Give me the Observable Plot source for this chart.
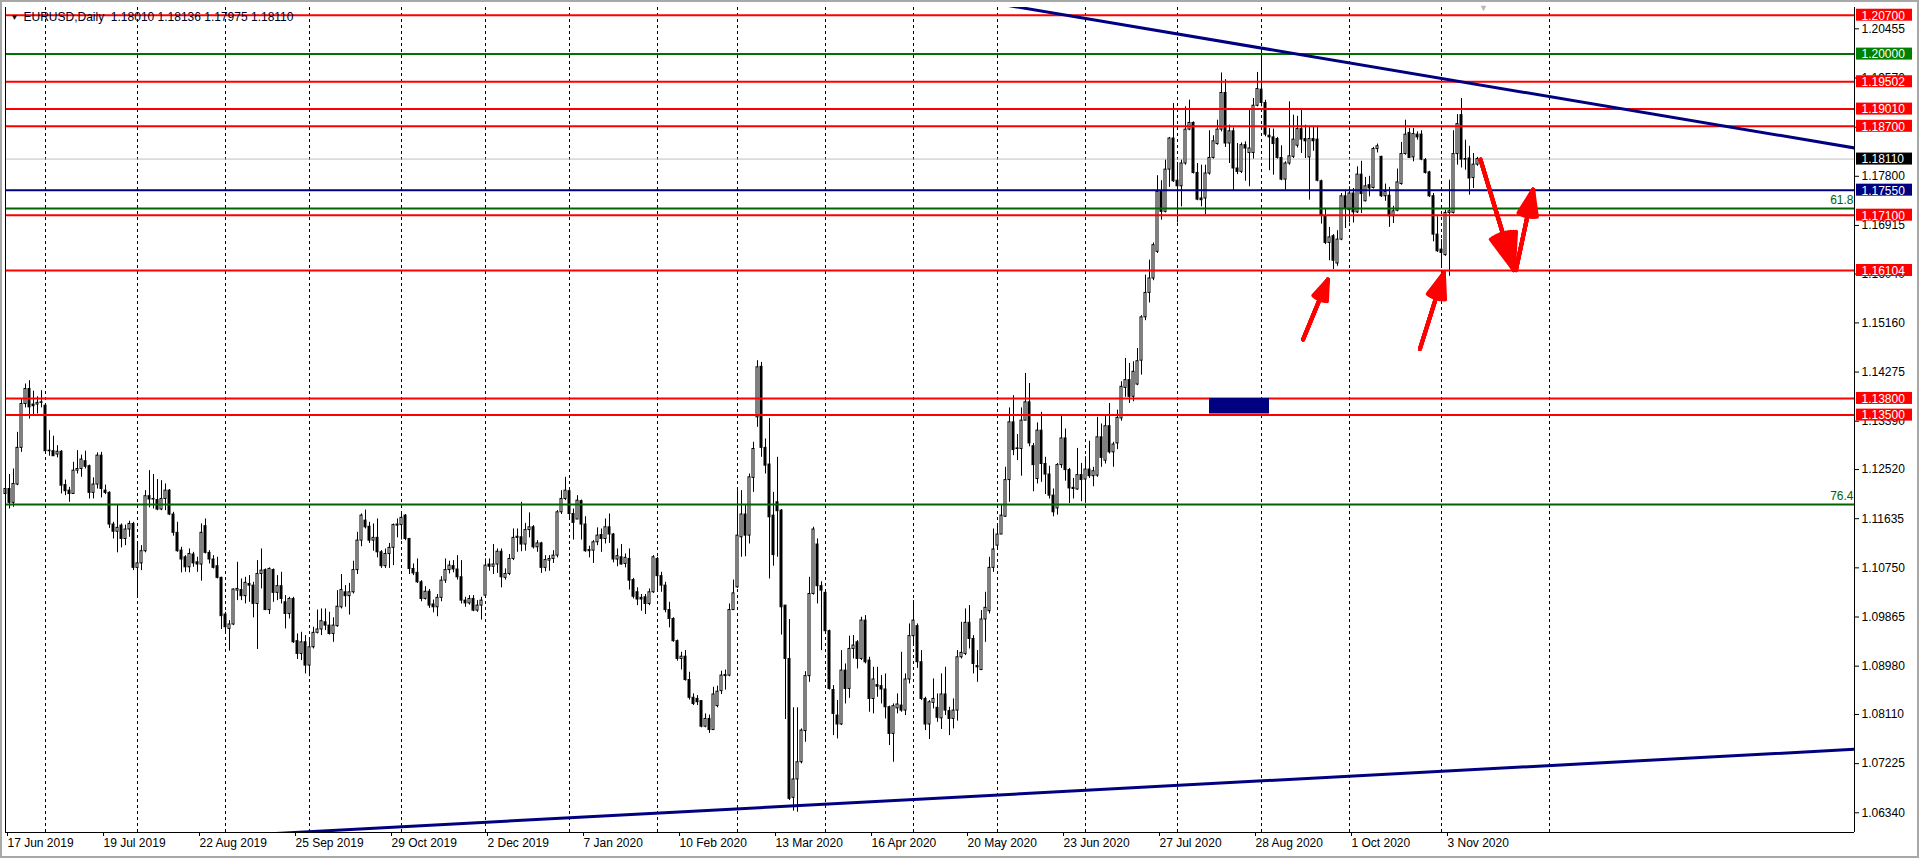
<!DOCTYPE html>
<html>
<head>
<meta charset="utf-8">
<script src="https://cdn.jsdelivr.net/npm/d3@7"></script>
<script src="https://cdn.jsdelivr.net/npm/@observablehq/plot@0.6"></script>
<style>
html, body { margin: 0; padding: 0; background: #fff; overflow: hidden; }
#wrap { position: relative; width: 1919px; height: 858px; }
#border { position: absolute; left: 0; top: 0; width: 1919px; height: 858px; box-sizing: border-box; border: 2px solid #a8a8a8; pointer-events: none; }
</style>
</head>
<body>
<div id="wrap"><div id="chart"></div><div id="border"></div></div>
<script>
// ---- Daily EURUSD bars (index 0 = 17 Jun 2019) ----
const open = [
1.1208,1.1217,1.1192,1.1225,1.1291,1.1370,1.1397,1.1369,1.1369,1.1372,
1.1367,1.1285,1.1285,1.1279,1.1284,1.1224,1.1214,1.1208,1.1250,1.1253,
1.1267,1.1258,1.1210,1.1225,1.1277,1.1214,1.1210,1.1153,1.1140,1.1151,
1.1127,1.1144,1.1154,1.1075,1.1083,1.1105,1.1204,1.1198,1.1197,1.1180,
1.1199,1.1214,1.1171,1.1138,1.1106,1.1094,1.1076,1.1099,1.1085,1.1081,
1.1150,1.1102,1.1090,1.1078,1.1057,1.0991,1.0965,1.0973,1.1034,1.1035,
1.1024,1.1046,1.1043,1.1010,1.1064,1.1071,1.0999,1.1071,1.1030,1.1042,
1.1013,1.0992,1.1019,1.0943,1.0920,1.0941,1.0899,1.0932,1.0958,1.0964,
1.0977,1.0971,1.0956,1.0970,1.1004,1.1031,1.1024,1.1031,1.1071,1.1124,
1.1160,1.1149,1.1124,1.1129,1.1103,1.1078,1.1100,1.1111,1.1151,1.1152,
1.1169,1.1127,1.1073,1.1066,1.1049,1.1019,1.1032,1.1009,1.1004,1.1021,
1.1052,1.1071,1.1078,1.1072,1.1058,1.1016,1.1011,1.1019,1.0998,1.1007,
1.1025,1.1081,1.1077,1.1081,1.1104,1.1057,1.1064,1.1091,1.1129,1.1130,
1.1117,1.1143,1.1148,1.1112,1.1119,1.1075,1.1088,1.1091,1.1097,1.1175,
1.1199,1.1213,1.1172,1.1162,1.1195,1.1153,1.1105,1.1106,1.1121,1.1134,
1.1127,1.1148,1.1135,1.1090,1.1094,1.1082,1.1091,1.1053,1.1031,1.1021,
1.1022,1.1010,1.1031,1.1091,1.1060,1.1043,1.0999,1.0983,1.0943,1.0911,
1.0915,1.0873,1.0841,1.0839,1.0835,1.0789,1.0803,1.0783,1.0826,1.0853,
1.0880,1.0881,1.0999,1.1040,1.1130,1.1171,1.1133,1.1237,1.1346,1.1437,
1.1291,1.1261,1.1169,1.1193,1.1178,1.1007,1.0911,1.0661,1.0694,1.0725,
1.0781,1.0880,1.1028,1.1117,1.1042,1.1030,1.0961,1.0855,1.0809,1.0793,
1.0890,1.0857,1.0929,1.0941,1.0911,1.0980,1.0908,1.0839,1.0864,1.0862,
1.0856,1.0824,1.0776,1.0822,1.0827,1.0818,1.0874,1.0952,1.0970,1.0905,
1.0839,1.0793,1.0832,1.0823,1.0804,1.0847,1.0817,1.0803,1.0818,1.0914,
1.0920,1.0976,1.0947,1.0898,1.0891,1.0982,1.0997,1.1075,1.1115,1.1135,
1.1167,1.1233,1.1337,1.1290,1.1289,1.1340,1.1373,1.1294,1.1235,1.1322,
1.1262,1.1243,1.1205,1.1182,1.1260,1.1308,1.1251,1.1219,1.1216,1.1242,
1.1234,1.1252,1.1240,1.1241,1.1310,1.1268,1.1330,1.1283,1.1299,1.1344,
1.1399,1.1413,1.1383,1.1405,1.1448,1.1526,1.1570,1.1596,1.1644,1.1752,
1.1716,1.1792,1.1848,1.1772,1.1762,1.1803,1.1864,1.1876,1.1786,1.1740,
1.1740,1.1785,1.1813,1.1838,1.1864,1.1930,1.1839,1.1861,1.1794,1.1788,
1.1836,1.1822,1.1822,1.1907,1.1936,1.1912,1.1853,1.1850,1.1847,1.1813,
1.1774,1.1803,1.1815,1.1835,1.1865,1.1847,1.1814,1.1847,1.1846,1.1771,
1.1708,1.1660,1.1672,1.1623,1.1666,1.1744,1.1719,1.1749,1.1715,1.1783,
1.1735,1.1764,1.1759,1.1829,1.1815,1.1744,1.1745,1.1708,1.1718,1.1766,
1.1820,1.1858,1.1814,1.1855,1.1855,1.1809,1.1787,1.1744,1.1675,1.1648,
1.1638,1.1714,1.1714,1.1820,1.1890,1.1811,1.1812,1.1777,1.1801
];
const high = [
1.1247,1.1243,1.1253,1.1319,1.1379,1.1406,1.1412,1.1393,1.1383,1.1394,
1.1370,1.1322,1.1312,1.1295,1.1286,1.1233,1.1220,1.1265,1.1286,1.1278,
1.1285,1.1260,1.1237,1.1282,1.1283,1.1224,1.1212,1.1157,1.1189,1.1154,
1.1152,1.1159,1.1157,1.1118,1.1115,1.1214,1.1250,1.1243,1.1234,1.1232,
1.1226,1.1216,1.1175,1.1157,1.1112,1.1097,1.1109,1.1103,1.1094,1.1154,
1.1163,1.1106,1.1097,1.1094,1.1058,1.0995,1.0980,1.1037,1.1085,1.1055,
1.1058,1.1061,1.1049,1.1088,1.1109,1.1073,1.1075,1.1073,1.1061,1.1067,
1.1025,1.1022,1.1022,1.0956,1.0959,1.0953,1.0944,1.0968,1.0999,1.1001,
1.1001,1.0995,1.0985,1.1034,1.1063,1.1043,1.1047,1.1087,1.1139,1.1172,
1.1179,1.1157,1.1154,1.1163,1.1106,1.1109,1.1119,1.1154,1.1163,1.1176,
1.1171,1.1128,1.1082,1.1091,1.1052,1.1041,1.1036,1.1017,1.1027,1.1059,
1.1091,1.1087,1.1088,1.1097,1.1088,1.1022,1.1025,1.1025,1.1016,1.1022,
1.1091,1.1091,1.1117,1.1109,1.1109,1.1073,1.1099,1.1145,1.1145,1.1193,
1.1155,1.1174,1.1151,1.1124,1.1121,1.1097,1.1097,1.1106,1.1178,1.1214,
1.1238,1.1215,1.1181,1.1205,1.1197,1.1167,1.1114,1.1124,1.1147,1.1145,
1.1163,1.1172,1.1137,1.1109,1.1117,1.1100,1.1109,1.1056,1.1039,1.1027,
1.1027,1.1037,1.1097,1.1094,1.1067,1.1049,1.1013,1.0985,1.0945,1.0923,
1.0926,1.0887,1.0848,1.0845,1.0836,1.0812,1.0810,1.0860,1.0862,1.0889,
1.0891,1.1010,1.1053,1.1214,1.1214,1.1187,1.1244,1.1301,1.1448,1.1445,
1.1307,1.1344,1.1211,1.1274,1.1180,1.0980,1.0982,1.0823,1.0823,1.0785,
1.0888,1.1058,1.1148,1.1127,1.1050,1.1034,1.0963,1.0863,1.0836,1.0926,
1.0902,1.0952,1.0953,1.0944,1.0986,1.0989,1.0914,1.0896,1.0896,1.0881,
1.0884,1.0826,1.0830,1.0848,1.0923,1.0884,1.0974,1.1016,1.0974,1.0926,
1.0842,1.0836,1.0875,1.0848,1.0884,1.0896,1.0824,1.0839,1.0926,1.0977,
1.1001,1.1007,1.0953,1.0926,1.0998,1.1031,1.1094,1.1145,1.1154,1.1187,
1.1256,1.1363,1.1385,1.1315,1.1363,1.1425,1.1407,1.1299,1.1336,1.1355,
1.1274,1.1258,1.1217,1.1263,1.1349,1.1325,1.1254,1.1236,1.1290,1.1263,
1.1275,1.1303,1.1256,1.1346,1.1334,1.1349,1.1371,1.1301,1.1359,1.1410,
1.1452,1.1443,1.1446,1.1470,1.1529,1.1602,1.1629,1.1660,1.1781,1.1772,
1.1809,1.1850,1.1911,1.1805,1.1809,1.1905,1.1917,1.1878,1.1803,1.1800,
1.1800,1.1862,1.1853,1.1881,1.1966,1.1954,1.1872,1.1867,1.1839,1.1840,
1.1842,1.1902,1.1920,1.1967,1.2011,1.1917,1.1866,1.1865,1.1850,1.1835,
1.1806,1.1914,1.1890,1.1888,1.1902,1.1872,1.1870,1.1870,1.1870,1.1773,
1.1722,1.1688,1.1675,1.1682,1.1749,1.1755,1.1761,1.1758,1.1797,1.1807,
1.1778,1.1780,1.1832,1.1838,1.1816,1.1766,1.1760,1.1726,1.1793,1.1841,
1.1881,1.1866,1.1866,1.1860,1.1862,1.1812,1.1789,1.1749,1.1707,1.1666,
1.1719,1.1773,1.1862,1.1891,1.1920,1.1845,1.1834,1.1821,1.1814
];
const low = [
1.1193,1.1181,1.1184,1.1223,1.1283,1.1363,1.1343,1.1348,1.1352,1.1363,
1.1282,1.1276,1.1276,1.1273,1.1208,1.1205,1.1193,1.1207,1.1244,1.1238,
1.1253,1.1199,1.1199,1.1217,1.1201,1.1207,1.1146,1.1127,1.1102,1.1111,
1.1115,1.1130,1.1070,1.1021,1.1070,1.1102,1.1183,1.1181,1.1178,1.1178,
1.1178,1.1169,1.1132,1.1103,1.1066,1.1067,1.1066,1.1076,1.1067,1.1051,
1.1100,1.1082,1.1073,1.1055,1.0964,1.0956,1.0925,1.0971,1.1016,1.1016,
1.1010,1.1013,1.0985,1.0928,1.1037,1.0998,1.0991,1.1013,1.1016,1.1010,
1.0965,1.0983,1.0939,1.0910,1.0908,1.0884,1.0879,1.0929,1.0956,1.0953,
1.0962,1.0954,1.0941,1.0968,1.1001,1.1004,1.0990,1.1028,1.1063,1.1113,
1.1145,1.1119,1.1105,1.1093,1.1074,1.1074,1.1074,1.1079,1.1129,1.1125,
1.1124,1.1063,1.1061,1.1047,1.1014,1.1017,1.1002,1.0994,1.0987,1.1014,
1.1047,1.1064,1.1066,1.1053,1.1010,1.1004,1.1008,1.0996,1.0995,1.0981,
1.1022,1.1069,1.1063,1.1065,1.1039,1.1053,1.1061,1.1088,1.1103,1.1104,
1.1105,1.1129,1.1109,1.1103,1.1065,1.1068,1.1069,1.1083,1.1093,1.1171,
1.1196,1.1161,1.1125,1.1162,1.1125,1.1103,1.1093,1.1083,1.1115,1.1103,
1.1118,1.1119,1.1084,1.1077,1.1080,1.1075,1.1035,1.1019,1.1007,1.0997,
1.0991,1.1007,1.1029,1.1033,1.1031,1.0994,1.0967,1.0941,1.0907,1.0891,
1.0871,1.0837,1.0827,1.0827,1.0787,1.0787,1.0777,1.0782,1.0823,1.0847,
1.0855,1.0879,1.0998,1.1038,1.1094,1.1095,1.1118,1.1211,1.1328,1.1274,
1.1244,1.1055,1.1078,1.1094,1.0954,1.0802,1.0656,1.0637,1.0635,1.0722,
1.0761,1.0869,1.1026,1.1010,1.0926,1.0955,1.0855,1.0773,1.0767,1.0791,
1.0830,1.0840,1.0911,1.0893,1.0908,1.0902,1.0815,1.0812,1.0842,1.0830,
1.0803,1.0755,1.0725,1.0812,1.0815,1.0809,1.0866,1.0935,1.0894,1.0836,
1.0782,1.0766,1.0821,1.0797,1.0784,1.0809,1.0773,1.0785,1.0799,1.0911,
1.0917,1.0929,1.0884,1.0869,1.0890,1.0941,1.0992,1.1067,1.1109,1.1140,
1.1166,1.1193,1.1277,1.1268,1.1240,1.1340,1.1293,1.1212,1.1226,1.1229,
1.1207,1.1199,1.1167,1.1170,1.1254,1.1231,1.1191,1.1199,1.1215,1.1194,
1.1191,1.1236,1.1221,1.1238,1.1256,1.1262,1.1280,1.1256,1.1288,1.1339,
1.1382,1.1371,1.1374,1.1403,1.1422,1.1520,1.1552,1.1592,1.1641,1.1701,
1.1714,1.1760,1.1769,1.1696,1.1725,1.1800,1.1862,1.1784,1.1736,1.1725,
1.1711,1.1782,1.1811,1.1836,1.1860,1.1832,1.1803,1.1755,1.1783,1.1785,
1.1771,1.1761,1.1811,1.1905,1.1905,1.1851,1.1790,1.1782,1.1811,1.1772,
1.1755,1.1800,1.1812,1.1831,1.1821,1.1812,1.1737,1.1825,1.1770,1.1694,
1.1657,1.1628,1.1612,1.1618,1.1664,1.1686,1.1696,1.1696,1.1713,1.1713,
1.1734,1.1743,1.1757,1.1822,1.1742,1.1735,1.1688,1.1695,1.1716,1.1764,
1.1818,1.1812,1.1806,1.1845,1.1808,1.1784,1.1742,1.1662,1.1643,1.1616,
1.1636,1.1600,1.1712,1.1800,1.1795,1.1791,1.1746,1.1758,1.1798
];
const close = [
1.1217,1.1192,1.1226,1.1291,1.1370,1.1397,1.1364,1.1366,1.1372,1.1373,
1.1285,1.1286,1.1276,1.1284,1.1223,1.1213,1.1208,1.1250,1.1253,1.1270,
1.1257,1.1210,1.1225,1.1277,1.1217,1.1210,1.1153,1.1140,1.1147,1.1127,
1.1144,1.1154,1.1075,1.1083,1.1105,1.1204,1.1198,1.1199,1.1180,1.1199,
1.1214,1.1171,1.1138,1.1105,1.1090,1.1076,1.1100,1.1083,1.1081,1.1138,
1.1102,1.1090,1.1075,1.1057,1.0988,1.0968,1.0973,1.1036,1.1037,1.1024,
1.1048,1.1043,1.1010,1.1064,1.1070,1.0999,1.1073,1.1030,1.1042,1.1019,
1.0992,1.1019,1.0941,1.0920,1.0941,1.0899,1.0932,1.0958,1.0964,1.0979,
1.0971,1.0956,1.0971,1.1005,1.1035,1.1024,1.1031,1.1071,1.1124,1.1169,
1.1148,1.1124,1.1129,1.1103,1.1078,1.1100,1.1111,1.1152,1.1153,1.1165,
1.1127,1.1073,1.1065,1.1049,1.1019,1.1032,1.1007,1.1004,1.1021,1.1052,
1.1071,1.1079,1.1072,1.1058,1.1016,1.1011,1.1019,1.0998,1.1007,1.1016,
1.1079,1.1077,1.1081,1.1104,1.1058,1.1064,1.1091,1.1129,1.1131,1.1117,
1.1143,1.1148,1.1112,1.1119,1.1075,1.1089,1.1091,1.1097,1.1175,1.1199,
1.1214,1.1172,1.1156,1.1196,1.1153,1.1105,1.1107,1.1121,1.1133,1.1127,
1.1148,1.1135,1.1090,1.1096,1.1081,1.1093,1.1052,1.1023,1.1018,1.1018,
1.1010,1.1031,1.1094,1.1060,1.1043,1.0999,1.0983,1.0943,1.0911,1.0915,
1.0873,1.0841,1.0830,1.0833,1.0789,1.0803,1.0783,1.0847,1.0852,1.0881,
1.0882,1.0999,1.1029,1.1133,1.1171,1.1133,1.1238,1.1289,1.1436,1.1291,
1.1259,1.1166,1.1098,1.1177,1.1004,1.0911,1.0659,1.0694,1.0725,1.0782,
1.0880,1.1028,1.1144,1.1042,1.1034,1.0961,1.0857,1.0812,1.0793,1.0890,
1.0857,1.0929,1.0935,1.0911,1.0980,1.0905,1.0839,1.0874,1.0861,1.0856,
1.0824,1.0776,1.0826,1.0829,1.0818,1.0874,1.0952,1.0980,1.0905,1.0839,
1.0793,1.0833,1.0839,1.0805,1.0847,1.0818,1.0803,1.0818,1.0914,1.0922,
1.0976,1.0947,1.0902,1.0896,1.0982,1.1003,1.1075,1.1108,1.1135,1.1169,
1.1233,1.1337,1.1287,1.1289,1.1340,1.1373,1.1299,1.1260,1.1322,1.1262,
1.1243,1.1205,1.1175,1.1260,1.1308,1.1251,1.1218,1.1217,1.1242,1.1233,
1.1252,1.1240,1.1249,1.1310,1.1273,1.1330,1.1283,1.1297,1.1345,1.1401,
1.1413,1.1383,1.1428,1.1447,1.1526,1.1570,1.1596,1.1656,1.1752,1.1716,
1.1792,1.1848,1.1771,1.1762,1.1803,1.1864,1.1876,1.1786,1.1738,1.1737,
1.1785,1.1813,1.1843,1.1864,1.1930,1.1839,1.1861,1.1794,1.1788,1.1836,
1.1830,1.1830,1.1907,1.1937,1.1912,1.1855,1.1850,1.1838,1.1813,1.1774,
1.1803,1.1816,1.1846,1.1865,1.1846,1.1843,1.1847,1.1843,1.1772,1.1710,
1.1660,1.1670,1.1628,1.1666,1.1744,1.1722,1.1749,1.1715,1.1783,1.1748,
1.1762,1.1758,1.1829,1.1834,1.1744,1.1752,1.1708,1.1717,1.1769,1.1820,
1.1855,1.1813,1.1856,1.1850,1.1810,1.1786,1.1744,1.1675,1.1645,1.1642,
1.1714,1.1717,1.1820,1.1874,1.1810,1.1810,1.1776,1.1801,1.1811
];

// ---- Axis ticks ----
const xLabelIdx = [0,24,48,72,96,120,144,168,192,216,240,264,288,312,336,360];
const xLabels = ["17 Jun 2019","19 Jul 2019","22 Aug 2019","25 Sep 2019","29 Oct 2019","2 Dec 2019",
  "7 Jan 2020","10 Feb 2020","13 Mar 2020","16 Apr 2020","20 May 2020","23 Jun 2020",
  "27 Jul 2020","28 Aug 2020","1 Oct 2020","3 Nov 2020"];
const monthStartIdx = [10,33,55,76,99,120,141,163,183,205,227,248,270,293,314,336,359,386];
const yTicks = [1.06340,1.07225,1.08110,1.08980,1.09865,1.10750,1.11635,1.12520,1.13390,
  1.14275,1.15160,1.16040,1.16915,1.17800,1.18685,1.19570,1.20455];

// ---- Drawn objects ----
const redLevels = [1.20700, 1.19502, 1.19010, 1.18700, 1.17100, 1.16104, 1.13800, 1.13500];
const greenLevels = [1.20000];
const blueLevels = [1.17550];
const bidLevels = [1.18110];
const fibLevels = [1.1722, 1.1189];
const fibLabels = ["61.8", "76.4"];
const trendDown = [{i: 240, p: 1.21005}, {i: 462.25, p: 1.18310}];
const trendUp = [{i: 60, p: 1.05938}, {i: 462.25, p: 1.07483}];
const zoneBox = [{i1: 301, i2: 316, p1: 1.1352, p2: 1.1380}];
const arrows = [
  {i1: 324.4, p1: 1.1486, i2: 330.6, p2: 1.1594},
  {i1: 353.6, p1: 1.1469, i2: 359.6, p2: 1.1606},
  {i1: 368.75, p1: 1.1810, i2: 377.1, p2: 1.1611},
  {i1: 377.6, p1: 1.1611, i2: 381.9, p2: 1.1756}
];
const header = "EURUSD,Daily\u00a0\u00a01.18010 1.18136 1.17975 1.18110";

// ---- Build ----
const n = Math.min(open.length, high.length, low.length, close.length);
const bars = d3.range(n).map(i => ({i, o: open[i], h: high[i], l: low[i], c: close[i]}));
const upBars = bars.filter(d => d.c >= d.o);
const downBars = bars.filter(d => d.c < d.o);
const xMax = 462.25;
const yDomain = [1.05985, 1.20839];
const labelByIdx = new Map(xLabelIdx.map((d, k) => [d, xLabels[k]]));

function levelBoxes(levels, color) {
  const data = levels.map(v => ({v, t: v.toFixed(5)}));
  return [
    Plot.rect(data, {x1: () => xMax, x2: () => xMax, y1: "v", y2: "v", fill: color,
      insetLeft: 2, insetRight: -58, insetTop: -6, insetBottom: -6}),
    Plot.text(data, {x: () => xMax, y: "v", text: "t", fill: "#fff", textAnchor: "start", dx: 7, dy: 0.5})
  ];
}

function arrowLayers(data) {
  return [40, 32, 24, 16, 8].map(a => Plot.arrow(data, {x1: "i1", y1: "p1", x2: "i2", y2: "p2",
    stroke: "#ff0000", strokeWidth: 4, headLength: 17, headAngle: a}));
}

const chart = Plot.plot({
  width: 1919,
  height: 858,
  marginLeft: 5,
  marginRight: 65,
  marginTop: 7,
  marginBottom: 26,
  x: {domain: [0, xMax]},
  y: {domain: yDomain},
  style: {fontFamily: "'Liberation Sans', Arial, sans-serif", fontSize: "12px", color: "#000", background: "#fff"},
  marks: [
    Plot.ruleX(monthStartIdx, {stroke: "#000", strokeDasharray: "3,3", strokeWidth: 1}),
    Plot.ruleY(bidLevels, {stroke: "#c0c0c0", strokeWidth: 1}),
    Plot.ruleX(bars, {x: "i", y1: "l", y2: "h", stroke: "#000", strokeWidth: 1}),
    Plot.rect(upBars, {x1: d => d.i - 0.25, x2: d => d.i + 0.25, y1: "o", y2: "c", fill: "#fff", stroke: "#000", strokeWidth: 1}),
    Plot.rect(downBars, {x1: d => d.i - 0.25, x2: d => d.i + 0.25, y1: "o", y2: "c", fill: "#000", stroke: "#000", strokeWidth: 1}),
    Plot.ruleY(redLevels, {stroke: "#ff0000", strokeWidth: 2}),
    Plot.ruleY(greenLevels, {stroke: "#007000", strokeWidth: 2}),
    Plot.ruleY(fibLevels, {stroke: "#006400", strokeWidth: 2}),
    Plot.ruleY(blueLevels, {stroke: "#000080", strokeWidth: 2}),
    Plot.text(fibLevels, {x: () => xMax, y: d => d, text: (d, k) => fibLabels[k], fill: "#006400", textAnchor: "end", dx: -1, dy: -8}),
    Plot.line(trendDown, {x: "i", y: "p", stroke: "#000080", strokeWidth: 3, clip: true}),
    Plot.line(trendUp, {x: "i", y: "p", stroke: "#000080", strokeWidth: 3, clip: true}),
    Plot.rect(zoneBox, {x1: "i1", x2: "i2", y1: "p1", y2: "p2", fill: "#000080"}),
    ...arrowLayers(arrows),
    Plot.ruleX([0], {stroke: "#000"}),
    Plot.ruleX([xMax], {stroke: "#000"}),
    Plot.ruleY([yDomain[0]], {stroke: "#000"}),
    Plot.axisY(yTicks, {anchor: "right", tickSize: 4, tickPadding: 3, tickFormat: d => d.toFixed(5), fill: "#000", stroke: "#000"}),
    Plot.axisX(xLabelIdx, {anchor: "bottom", tickSize: 4, tickPadding: 2, textAnchor: "start", dx: 2, tickFormat: d => labelByIdx.get(d), fill: "#000", stroke: "#000"}),
    ...levelBoxes(redLevels, "#ff0000"),
    ...levelBoxes(greenLevels, "#008000"),
    ...levelBoxes(blueLevels, "#000080"),
    ...levelBoxes(bidLevels, "#000000"),
    Plot.text([header], {frameAnchor: "top-left", dx: 18, dy: 5, fill: "#000020", fontSize: 12}),
    Plot.text(["\u25bc"], {frameAnchor: "top-left", dx: 5, dy: 7, fill: "#000", fontSize: 8}),
    Plot.text(["\u25bc"], {x: () => 369.5, frameAnchor: "top", dy: -3, fill: "#b8b8b8", fontSize: 9})
  ]
});
document.getElementById("chart").appendChild(chart);
</script>
</body>
</html>
